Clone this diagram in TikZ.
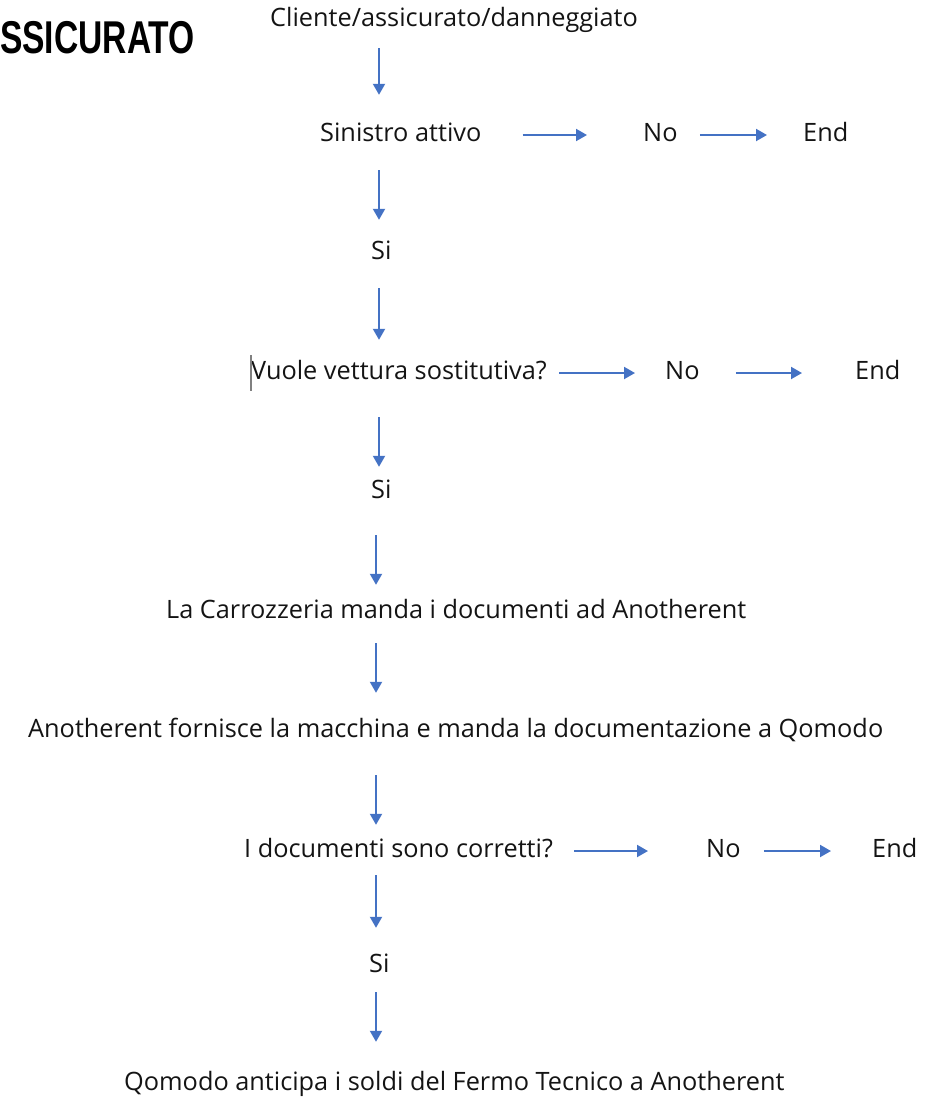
\documentclass[tikz,border=0pt]{standalone}
\usepackage{fontspec}
\setmainfont{Open Sans}
\newfontfamily\headfont{Liberation Sans}
\usetikzlibrary{arrows.meta,positioning}
\definecolor{flowblue}{RGB}{68,114,196}
\definecolor{flowtext}{RGB}{20,20,20}

\begin{document}
\begin{tikzpicture}[x=1pt,y=-1pt,
    lbl/.style={anchor=west, inner sep=0pt, text height=17pt, text depth=5pt, text=flowtext, font=\fontsize{25.3}{30}\selectfont},
    flow/.style={-{Triangle[length=11pt,width=12pt]}, line width=2pt, draw=flowblue}]
    \useasboundingbox (0,0) rectangle (943,1098);

    \node[anchor=base west, inner sep=0pt, font=\headfont\bfseries\fontsize{46}{48}\selectfont] (titolo) at (0,53) {\scalebox{0.73}[1]{SSICURATO}};

    \node[lbl] (cliente) at (270,20) {Cliente/assicurato/danneggiato};
    \node[lbl] (sinistro) at (320,135) {Sinistro attivo};
    \node[lbl] (no1) at (643,135) {No};
    \node[lbl] (end1) at (803,135) {End};
    \node[lbl] (si1) at (371,253) {Si};
    \node[lbl] (vuole) at (251,373) {Vuole vettura sostitutiva?};
    \node[lbl] (no2) at (665,373) {No};
    \node[lbl] (end2) at (855,373) {End};
    \node[lbl] (si2) at (371,492) {Si};
    \node[lbl] (carro) at (166,612) {La Carrozzeria manda i documenti ad Anotherent};
    \node[lbl] (anoth) at (28,731) {Anotherent fornisce la macchina e manda la documentazione a Qomodo};
    \node[lbl] (docu) at (244,851) {I documenti sono corretti?};
    \node[lbl] (no3) at (706,851) {No};
    \node[lbl] (end3) at (872,851) {End};
    \node[lbl] (si3) at (369,966) {Si};
    \node[lbl] (qomodo) at (124,1084) {Qomodo anticipa i soldi del Fermo Tecnico a Anotherent};

    % cursor mark before the question
    \draw[gray, line width=1.5pt] (vuole.west) ++(0,-18) -- ++(0,36);

    % main column
    \coordinate (upper) at (379,0);
    \coordinate (lower) at (376,0);
    \draw[flow, shorten <=17pt, shorten >=29pt] (cliente.south -| upper) -- (sinistro.north -| upper);
    \draw[flow, shorten <=24pt, shorten >=22pt] (sinistro.south -| upper) -- (si1.north -| upper);
    \draw[flow, shorten <=24pt, shorten >=22pt] (si1.south -| upper) -- (vuole.north -| upper);
    \draw[flow, shorten <=33pt, shorten >=14pt] (vuole.south -| upper) -- (si2.north -| upper);
    \draw[flow, shorten <=32pt, shorten >=16pt] (si2.south -| lower) -- (carro.north -| lower);
    \draw[flow, shorten <=20pt, shorten >=27pt] (carro.south -| lower) -- (anoth.north -| lower);
    \draw[flow, shorten <=33pt, shorten >=15pt] (anoth.south -| lower) -- (docu.north -| lower);
    \draw[flow, shorten <=13pt, shorten >=27pt] (docu.south -| lower) -- (si3.north -| lower);
    \draw[flow, shorten <=15pt, shorten >=31pt] (si3.south -| lower) -- (qomodo.north -| lower);

    % side branches
    \draw[flow, shorten <=41pt, shorten >=56pt] (sinistro.east) -- (no1.west);
    \draw[flow, shorten <=22pt, shorten >=36pt] (no1.east) -- (end1.west);
    \draw[flow, shorten <=12pt, shorten >=30pt] (vuole.east) -- (no2.west);
    \draw[flow, shorten <=36pt, shorten >=53pt] (no2.east) -- (end2.west);
    \draw[flow, shorten <=21pt, shorten >=58pt] (docu.east) -- (no3.west);
    \draw[flow, shorten <=23pt, shorten >=41pt] (no3.east) -- (end3.west);
\end{tikzpicture}
\end{document}
